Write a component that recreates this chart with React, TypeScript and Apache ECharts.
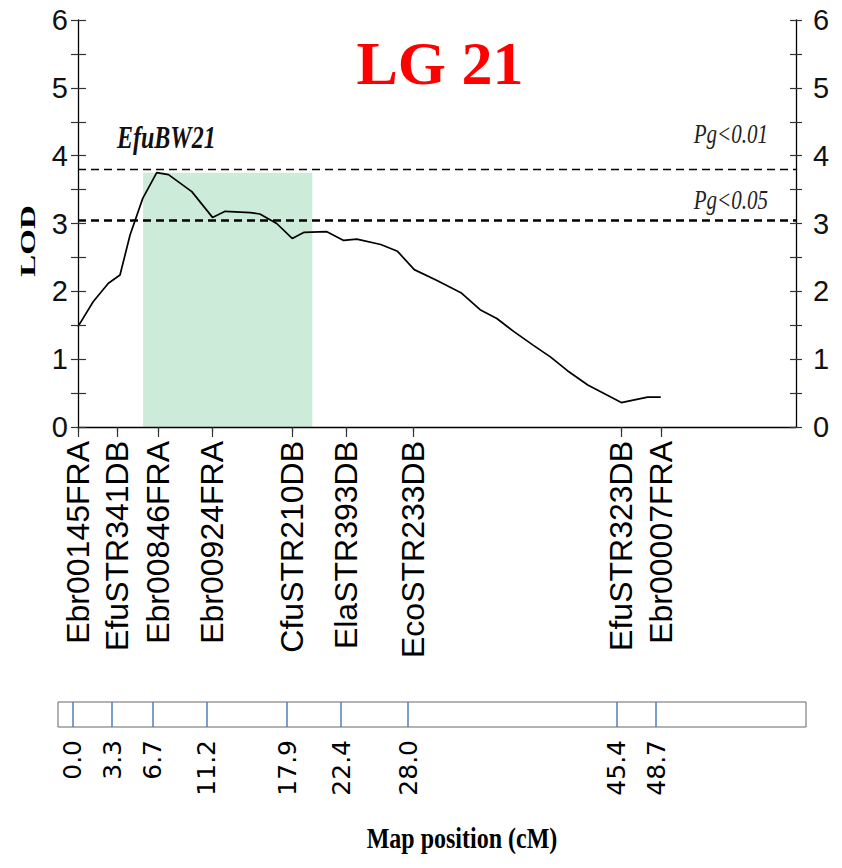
import React, { useEffect, useRef } from "react";
import * as echarts from "echarts";

// Marker names and map positions (cM)
const markerNames = [
  "Ebr00145FRA",
  "EfuSTR341DB",
  "Ebr00846FRA",
  "Ebr00924FRA",
  "CfuSTR210DB",
  "ElaSTR393DB",
  "EcoSTR233DB",
  "EfuSTR323DB",
  "Ebr00007FRA",
];
const markerPos = [0.0, 3.3, 6.7, 11.2, 17.9, 22.4, 28.0, 45.4, 48.7];

// LOD profile
const curvePos = [
  0, 1.28, 2.54, 3.51, 4.35, 5.41, 6.58, 7.56, 9.51, 11.24, 12.3, 14.4, 15.2,
  16.6, 17.9, 18.9, 20.8, 22.2, 23.3, 25.3, 26.7, 28.1, 30.0, 32.0, 33.6, 35.0,
  36.4, 38.0, 39.5, 40.9, 42.6, 44.2, 45.4, 46.5, 47.6, 48.7,
];
const curveLod = [
  1.48, 1.85, 2.12, 2.24, 2.83, 3.37, 3.75, 3.72, 3.47, 3.09, 3.18, 3.16, 3.14,
  3.0, 2.78, 2.87, 2.88, 2.75, 2.77, 2.69, 2.59, 2.32, 2.16, 1.98, 1.73, 1.6,
  1.41, 1.21, 1.03, 0.83, 0.62, 0.47, 0.36, 0.4, 0.44, 0.44,
];

// Thresholds
const thresholdNames = ["Pg<0.01", "Pg<0.05"];
const thresholdValues = [3.8, 3.05];

// QTL confidence interval
const ciStart = 5.44;
const ciEnd = 19.58;
const ciTop = 3.75;
const ciBottom = -0.19;

const qtlName = "EfuBW21";
const titleText = "LG 21";

export default function App() {
  const ref = useRef<HTMLDivElement>(null);

  useEffect(() => {
    document.body.style.margin = "0";
    if (!ref.current) return;
    const chart = echarts.init(ref.current, undefined, { renderer: "svg" });

    const seriesData = curvePos.map((x, i) => [x, curveLod[i]]);
    const sans = "Liberation Sans";
    const serif = "Liberation Serif";

    const yBase = (position: "left" | "right", inside: boolean, labels: boolean, len: number, margin: number) => ({
      type: "value",
      gridIndex: 0,
      position,
      min: 0,
      max: 6,
      interval: 0.5,
      z: 3,
      axisLine: { show: !inside, lineStyle: { color: "#000", width: 1.3 } },
      axisTick: { show: true, inside, length: len, lineStyle: { color: "#333", width: 1.2 } },
      axisLabel: {
        show: labels,
        margin,
        fontFamily: sans,
        fontSize: 29,
        color: "#111",
        formatter: (v: number) => (Number.isInteger(v) ? String(v) : ""),
      },
      splitLine: { show: false },
    });

    const option: any = {
      animation: false,
      backgroundColor: "#fff",
      grid: [
        { left: 78, right: 46, top: 20, bottom: 441 },
        {
          left: 58,
          right: 36,
          top: 702,
          height: 25,
          show: true,
          borderColor: "#666",
          borderWidth: 1,
          backgroundColor: "#fff",
        },
      ],
      xAxis: [
        {
          type: "value",
          gridIndex: 0,
          min: 0,
          max: 60,
          z: 3,
          axisLine: { show: true, lineStyle: { color: "#000", width: 1.3 } },
          axisTick: {
            show: true,
            customValues: markerPos,
            length: 10,
            lineStyle: { color: "#333", width: 1.2 },
          },
          axisLabel: {
            show: true,
            customValues: markerPos,
            rotate: 90,
            margin: 14,
            fontFamily: sans,
            fontSize: 32,
            color: "#000",
            formatter: (v: number) => {
              const i = markerPos.findIndex((p) => Math.abs(p - v) < 1e-6);
              return i >= 0 ? markerNames[i] : "";
            },
          },
          splitLine: { show: false },
        },
        {
          type: "value",
          gridIndex: 0,
          min: 0,
          max: 60,
          z: 3,
          axisLine: { show: false },
          axisTick: {
            show: true,
            inside: true,
            customValues: markerPos,
            length: 5,
            lineStyle: { color: "#333", width: 1.2 },
          },
          axisLabel: { show: false },
          splitLine: { show: false },
        },
        {
          type: "value",
          gridIndex: 1,
          min: -1.227,
          max: 61.21,
          position: "bottom",
          axisLine: { show: false },
          axisTick: {
            show: true,
            inside: true,
            customValues: markerPos,
            length: 25,
            lineStyle: { color: "#4f81bd", width: 1.5 },
          },
          axisLabel: {
            show: true,
            customValues: markerPos,
            rotate: 90,
            margin: 13,
            fontFamily: "DejaVu Sans",
            fontSize: 25,
            color: "#000",
            formatter: (v: number) => v.toFixed(1),
          },
          splitLine: { show: false },
        },
      ],
      yAxis: [
        yBase("left", false, true, 7, 10),
        yBase("left", true, false, 8, 10),
        yBase("right", false, true, 6, 17),
        yBase("right", true, false, 6, 17),
        { type: "value", gridIndex: 1, min: 0, max: 1, show: false },
      ],
      series: [
        {
          type: "line",
          xAxisIndex: 0,
          yAxisIndex: 0,
          data: seriesData,
          showSymbol: false,
          clip: false,
          lineStyle: { color: "#000", width: 1.7 },
          z: 2,
          markArea: {
            silent: true,
            itemStyle: { color: "#cdebd9" },
            data: [[{ xAxis: ciStart, yAxis: ciBottom }, { xAxis: ciEnd, yAxis: ciTop }]],
          },
          markLine: {
            silent: true,
            symbol: ["none", "none"],
            label: { show: false },
            data: [
              { yAxis: thresholdValues[0], lineStyle: { color: "#000", type: [8, 5], width: 1.4 } },
              { yAxis: thresholdValues[1], lineStyle: { color: "#000", type: [8, 5], width: 2.6 } },
            ],
          },
        },
      ],
      graphic: [
        {
          type: "text",
          x: 440,
          y: 63,
          style: {
            text: titleText,
            fontFamily: serif,
            fontWeight: "bold",
            fontSize: 62,
            fill: "#ff0000",
            align: "center",
            verticalAlign: "middle",
          },
        },
        {
          type: "text",
          x: 117,
          y: 137,
          scaleY: 1.3,
          style: {
            text: qtlName,
            fontFamily: serif,
            fontWeight: "bold",
            fontStyle: "italic",
            fontSize: 24,
            fill: "#111",
            align: "left",
            verticalAlign: "middle",
          },
        },
        {
          type: "text",
          x: 768,
          y: 134,
          scaleY: 1.25,
          style: {
            text: thresholdNames[0],
            fontFamily: serif,
            fontStyle: "italic",
            fontSize: 21,
            fill: "#222",
            align: "right",
            verticalAlign: "middle",
          },
        },
        {
          type: "text",
          x: 768,
          y: 200,
          scaleY: 1.25,
          style: {
            text: thresholdNames[1],
            fontFamily: serif,
            fontStyle: "italic",
            fontSize: 21,
            fill: "#222",
            align: "right",
            verticalAlign: "middle",
          },
        },
        {
          type: "text",
          x: 28,
          y: 241,
          rotation: Math.PI / 2,
          scaleX: 1.5,
          style: {
            text: "LOD",
            fontFamily: serif,
            fontWeight: "bold",
            fontSize: 22,
            fill: "#000",
            align: "center",
            verticalAlign: "middle",
          },
        },
        {
          type: "text",
          x: 462,
          y: 838,
          scaleY: 1.25,
          style: {
            text: "Map position (cM)",
            fontFamily: serif,
            fontWeight: "bold",
            fontSize: 24,
            fill: "#000",
            align: "center",
            verticalAlign: "middle",
          },
        },
      ],
    };

    chart.setOption(option);
    return () => chart.dispose();
  }, []);

  return <div ref={ref} style={{ width: 842, height: 868 }} />;
}
